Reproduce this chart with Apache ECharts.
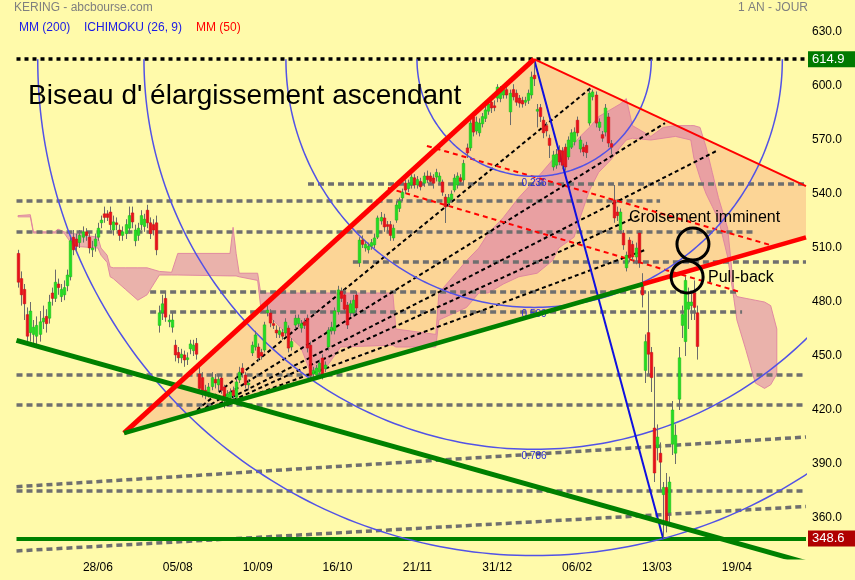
<!DOCTYPE html>
<html><head><meta charset="utf-8">
<script src="https://cdn.jsdelivr.net/npm/echarts@6/dist/echarts.min.js"></script>
<style>html,body{margin:0;padding:0;background:#FFFAAA}#c{width:855px;height:580px}</style>
</head><body><div id="c"></div>
<script>
// ---------- DATA ----------
// x positions are trading-day slots (0 = first candle); the last slots are the Ichimoku projection.
const tickIndex = [26, 52, 78, 104, 130, 156, 182, 208, 234];
const tickLabels = ['28/06', '05/08', '10/09', '16/10', '21/11', '31/12', '06/02', '13/03', '19/04'];
const priceTicks = [360, 390, 420, 450, 480, 510, 540, 570, 600, 630];

// [open, close, low, high]
const candles = [
[507,491,488,509],[493,484,478,497],[487,479,470,490],[473,461,457,477],[463,475,458,480],
[462,466,455,470],[461,467,456,472],[462,469,458,475],[469,471,465,478],[472,468,463,476],
[471,480,468,484],[485,482,478,488],[482,491,480,498],[490,488,484,493],[483,487,480,490],
[484,488,481,492],[489,495,486,498],[494,514,492,516],[516,509,506,520],[515,511,508,518],
[513,517,510,520],[516,519,513,522],[519,517,514,521],[516,510,507,519],[509,510,505,514],
[511,515,508,518],[516,521,514,524],[524,525.5,521,528],[529,527,524,533],[529,527,525,531],
[530,523,520,533],[520,524.5,517,528],[524,523,520,527],[520,517,514,523],[517,519,514,522],
[518,523,515,526],[521,528,518,533],[529.5,524.5,521,533],[514,520,511,523],[517,521,514,524],
[523,528,520,531],[522,526,519,529],[531,524,521,534],[524,518,515,527],[523,520,517,526],
[524,509,506,528],[467,474,463,478],[474,479,470,484],[482,471.6,469,485],[469,470,466,473],
[466,470,463,474],[456,450.6,447,459],[452,449,446,455],[449,451,446,454],[450.6,447.8,444,453],
[448,449,445,452],[454,456.7,451,459],[453,456,450,459],[457,451,448,460],[440,432,429,445],
[438,430,427,441],[431,429,426,434],[429.4,432.8,427,435],[433,438,431,441],[437,435,432,440],
[434,437,430,439],[437.8,431,429,440],[432.8,426.7,421,434],[427,429,424,431],[427,430,425,432],
[431,428,425,433],[427,435.6,426,438],[436.7,441,435,444],[443.3,440.6,438,446],[439.4,434,432,441],
[434,435,431,437],[451.7,456,450,458],[455,461.7,453,464],[455,449,447,457],[452,450,448,454],
[453.3,467.3,452,469],[474,475.5,472,479],[473.9,468.3,466,476],[468,467,465,470],[464.4,462.8,460,467],
[462,464,460,466],[463,461,459,465],[462.8,468.9,461,471],[465.5,454.4,452,467],[455,458,453,460],
[467.2,471,465,473],[468,471,466,473],[465.5,468,463,470],[469,467,465,471],[471,454.4,452,473],
[456,439.4,437,458],[440,442,438,444],[439.4,443.3,437,445],[441,446,439,448],[448.9,439.4,437,451],
[443,445,441,447],[455,464.4,453,466],[464,466,462,469],[464,475,462,477],[474.5,486.7,473,489],
[486,482,480,488],[484,476,474,487],[478.3,467.2,465,480],[474,479,472,481],[474,481,472,484],
[483.9,476.7,474,486],[501.7,514.4,499.5,516],[514.4,512,510,517],[510,512,508,514],[509,511,507,513],
[511,513,509,515],[511.7,515.6,510,518],[516,526.7,515,528],[525,527,523,530],[526.7,521.7,519,529],
[523,522,519,525],[523,517,514,525],[515.6,521,514,523],[525.5,533.9,524,536],[532,536,530,538],
[537.8,541,536,543],[546,542.2,540,548],[543,546,541,548],[545,549.4,543,551],[549,545,543,551],
[545,548,543,550],[547,544,542,549],[546,550,544,552],[550,548,546,553],[550,547,545,552],
[548.9,546,543,551],[549.4,552,547,554],[547,550,545,552],[546.7,541,539,548],[538.3,532.8,523.9,540],
[535,538,533,540],[537,540,535,542],[542.2,548.9,541,551],[545,550,543,552],[549,547,545,551],
[547.8,557,546,559],[565.6,562.8,560,568],[565.6,579.4,564,581],[582.8,574.4,572,585],[575,580,573,583],
[574,579.4,572,582],[579,583,577,585],[582,586.7,580,589],[586,590,584,592],[591,587.8,585,593],
[589,588,586,592],[593.3,599.4,591,601],[593,598,591,600],[595,598,593,601],[598,595,593,600],
[585.6,596,578.3,598],[598,594,592,601],[596,591,589,598],[593.3,590.5,588,595],[592,590,588,594],
[591,592,589,594],[592,596,590,598],[595,605,593,608],[606,604,600,614.9],[586,587,577,590],
[588,583,580,590],[581,574,571,583],[578,575,572,580],[571,567,560,573],[555,561.7,553,564],
[556,562,554,565],[564.4,557.8,556,567],[564,556,554,566],[566,555,553,568],[560.6,570,559,572],
[566,574,565,576],[569,574.4,567,577],[581,574,572,583],[565,570,563,572],[566,563.4,561,568],
[567,563,560,569],[579.4,596,578,598],[594,596.7,592,598],[595,579.4,577,597],[577,580,575,582],
[573,571,569,575],[574.4,587.8,572,590],[582.8,568.3,566,585],[568,566,562,570],[536.7,526.7,524,545],
[530,528,525,533],[520,530,518,532],[518.3,511.7,509,520],[499,506,497,508],[514.4,504.4,502,516],
[512,505,503,514],[505,510,501,513],[518.3,501.7,499,520],[490.5,483.9,477,496],[442,458,435,462],
[463,451,440,486],[452,438,430,455],[410,385,380,444],[399,405,392,412],[396,391,375,402],
[373,377,348.6,380],[377,357,352,385],[363,380,357,383],[401,420,395,425],[396,406,390,412],
[426,449,420,455],[467,473,460,478],[458,492,450,494],[476,480,465,488],[478,480,470,486],
[485,477,470,492],[474,455.3,448,478]
];

// Ichimoku cloud: [slot, upper span, lower span]
const cloud = [
[0,528,527.3],[4,528.5,527.3],[5,519,518.3],[12,519,518.3],[13,520.5,518.3],[15,519,518.3],
[18,518,511],[26,516,510],[27,510,506],[29,506,502],[30,499.5,494],[31,499,493],[35,499,487],
[39,499,481],[42,499,484],[46,497,495],[50,496.5,495],[52,507,495],[69,507,494.5],[70,521.5,494.5],
[71,507,494.5],[72,496,494],[78,496,492],[79,485,477],[83,485,470],[87,485,463],[92,485,455],
[95,485,442],[100,485,443],[105,485,455],[122,485,456],[123,465,455],[136,462,455],[137,485,470],
[146,503,477],[150,510,485],[153,518,485],[158,527,490],[163,538,494],[169,549,496],[174,559,503],
[176,563,510],[181,568,516],[183,572,527],[186,577,542],[189,583,552],[193,587,559],[196,590,566],
[198,593,570],[200,578,571],[206,572,570],[210,577,571],[214,578,572],[219,578,570],[220,578,560],
[222,577,549],[224,566,540],[226,552,533],[228,538,526],[231,521,505],[233,487,482],[234,483,470],
[237,482,453],[240,481,435],[243,480,432],[245,478,434],[247,465,440]
];

// Drawn trend lines, as [slot, price] end points
const wedgeUpper = [[34.5, 407.2], [168, 614.9]];
const wedgeLowerGreen = [[34.5, 407.2], [203.5, 490.0]];
const wedgeLowerRed = [[203.5, 490.0], [256.5, 515.9]];
const wedgeTop = [[168, 614.9], [256.5, 544.4]];
const supportLine = [[-0.5, 458.7], [256.5, 335.2]];
const dropLine = [[168, 614.9], [210, 348.6]];
const fanLines = [
  [[58.3, 420.0], [186.8, 599.4]],
  [[60.9, 421.1], [210.6, 579.4]],
  [[63.5, 421.7], [227.9, 564.4]],
  [[65.8, 422.2], [202.5, 528.3]],
  [[68.0, 422.8], [204.1, 508.9]]
];
const redDashed = [
  [[133.1, 566.7], [244.8, 511.7]],
  [[120.4, 543.3], [235.0, 485.6]]
];
// horizontal levels: [price, from slot, to slot]
const levels = [
  [545.6, 94.4, 256.5], [536.1, -0.5, 209], [518.9, -0.5, 240], [502.2, 109, 256.5],
  [485.6, 43, 235], [474.4, 43, 235.7], [439.4, -0.5, 256.5], [422.8, -0.5, 256.5],
  [375.0, -0.5, 256.5]
];
const slopedLevels = [
  [[-0.5, 377.4], [256.5, 405.0]],
  [[-0.5, 341.7], [256.5, 366.4]]
];
const fibCenter = [168, 614.9];
const fibEnd = [210, 348.6];
const fibRatios = [0.236, 0.5, 0.786, 1.0];
const markedCircles = [[219.7, 512.2], [217.8, 493.9]];
const highPrice = 614.9, lowPrice = 348.6, lastPrice = 455.3;

// ---------- CHART ----------
const FONT = 'Liberation Sans, Arial, sans-serif';
const chart = echarts.init(document.getElementById('c'), null, {renderer: 'canvas'});

function seg(pts, color, width, type, z) {
  return {type: 'line', data: pts, symbol: 'none', silent: true, animation: false, clip: true, z: z,
    lineStyle: {color: color, width: width, type: type}};
}

const series = [];

// wedge fill
series.push({
  type: 'custom', z: 1, silent: true, animation: false, clip: true, data: [[0, 0]],
  renderItem: function (p, api) {
    const pts = [wedgeUpper[0], wedgeUpper[1], wedgeTop[1], wedgeLowerRed[1]].map(d => api.coord(d));
    return {type: 'polygon', shape: {points: pts}, style: {fill: '#FCD596'}};
  }
});
// ichimoku cloud
series.push({
  type: 'custom', z: 2, silent: true, animation: false, clip: true, data: [[0, 0]],
  renderItem: function (p, api) {
    const top = cloud.map(d => api.coord([d[0], d[1]]));
    const bot = cloud.slice().reverse().map(d => api.coord([d[0], d[2]]));
    return {type: 'polygon', shape: {points: top.concat(bot)},
      style: {fill: 'rgba(214,112,172,0.52)', stroke: 'rgba(222,130,160,0.9)', lineWidth: 1}};
  }
});
// gray levels
levels.forEach(l => series.push(seg([[l[1], l[0]], [l[2], l[0]]], '#6f6f6f', 3.5, [6, 4], 3)));
slopedLevels.forEach(l => series.push(seg(l, '#6f6f6f', 3.5, [6, 4], 3)));
// fan & red dashed
fanLines.forEach(l => series.push(seg(l, '#000000', 2, [4, 3], 4)));
redDashed.forEach(l => series.push(seg(l, '#ff0000', 2, [5, 4], 4)));
// fibonacci arcs: lower half circles centred on the high, radius = ratio x (high -> low) distance
series.push({
  type: 'custom', z: 5, silent: true, animation: false, clip: true, data: [[0, 0]],
  renderItem: function (p, api) {
    const c = api.coord(fibCenter), e = api.coord(fibEnd);
    const R = Math.hypot(e[0] - c[0], e[1] - c[1]);
    const children = [];
    fibRatios.forEach(r => {
      const pts = [];
      for (let k = 0; k <= 180; k++) {
        const a = Math.PI * k / 180;
        pts.push([c[0] + R * r * Math.cos(a), c[1] + R * r * Math.sin(a)]);
      }
      children.push({type: 'polyline', shape: {points: pts},
        style: {fill: null, stroke: '#5252e6', lineWidth: 1.5}});
      children.push({type: 'text', x: c[0], y: c[1] + R * r + 7,
        style: {text: r.toFixed(3), fill: '#2a2ad8', fontSize: 10, fontFamily: FONT, align: 'center', verticalAlign: 'middle'}});
    });
    return {type: 'group', children: children};
  }
});
series.push(seg(dropLine, '#1010e0', 2, 'solid', 5));
// candles
series.push({
  type: 'custom', z: 6, silent: true, animation: false, clip: true,
  data: candles.map((d, i) => [i, d[0], d[1], d[2], d[3]]),
  renderItem: function (p, api) {
    const i = api.value(0), o = api.value(1), c = api.value(2), l = api.value(3), h = api.value(4);
    const pO = api.coord([i, o]), pC = api.coord([i, c]), pL = api.coord([i, l]), pH = api.coord([i, h]);
    const w = api.size([1, 0])[0] * 0.85;
    const x = Math.round(pO[0]) + 0.5;
    const top = Math.min(pO[1], pC[1]);
    const bh = Math.max(Math.abs(pO[1] - pC[1]), 1.5);
    const up = c >= o;
    return {type: 'group', children: [
      {type: 'line', shape: {x1: x, y1: pH[1], x2: x, y2: pL[1]}, style: {stroke: '#6b6b6b', lineWidth: 1}},
      {type: 'rect', shape: {x: x - w / 2, y: top, width: w, height: bh},
        style: {fill: up ? '#22dd22' : '#e8101a', stroke: up ? '#18b818' : '#c80c14', lineWidth: 0.5}}
    ]};
  }
});
// thick trend lines
series.push(seg(supportLine, '#008000', 5, 'solid', 7));
series.push(seg(wedgeUpper, '#ff0000', 5, 'solid', 7));
series.push(seg(wedgeLowerGreen, '#008000', 4.5, 'solid', 7));
series.push(seg(wedgeLowerRed, '#ff0000', 4.5, 'solid', 7));
series.push(seg(wedgeTop, '#ff0000', 2, 'solid', 7));
// price marks
const boxLabel = (bg) => ({show: true, position: 'end', distance: 2, color: '#fff', fontSize: 13,
  fontFamily: FONT, backgroundColor: bg, padding: [2, 12, 1, 4]});
series.push({
  type: 'line', data: [], z: 8, silent: true, animation: false,
  markLine: {
    symbol: ['none', 'none'], silent: true, animation: false,
    data: [
      {yAxis: highPrice, lineStyle: {color: '#000', width: 3.5, type: [4, 4]}, label: Object.assign(boxLabel('#007a00'), {formatter: highPrice.toFixed(1)})},
      {yAxis: lowPrice, lineStyle: {color: '#008000', width: 4, type: 'solid'}, label: Object.assign(boxLabel('#b00000'), {formatter: lowPrice.toFixed(1)})},
      {yAxis: lastPrice, lineStyle: {color: '#000', width: 0, opacity: 0}, label: Object.assign(boxLabel('#3a6cff'), {formatter: lastPrice.toFixed(1)})}
    ]
  }
});
// annotation circles
series.push({
  type: 'custom', z: 9, silent: true, animation: false, clip: false, data: markedCircles,
  renderItem: function (p, api) {
    const c = api.coord([api.value(0), api.value(1)]);
    return {type: 'circle', shape: {cx: c[0], cy: c[1], r: 16}, style: {fill: 'none', stroke: '#000', lineWidth: 3}};
  }
});

const txt = (x, y, text, size, color) => ({type: 'text', x: x, y: y, z: 100,
  style: {text: text, fontSize: size, fontFamily: FONT, fill: color, verticalAlign: 'middle'}});

chart.setOption({
  backgroundColor: '#FFFAAA',
  animation: false,
  grid: {left: 16.5, right: 49, top: 0, bottom: 23},
  xAxis: {
    type: 'value', min: -0.5, max: 256.5,
    axisLine: {show: false}, axisTick: {show: false}, splitLine: {show: false},
    axisLabel: {customValues: tickIndex, formatter: v => tickLabels[tickIndex.indexOf(v)] || '',
      color: '#000', fontSize: 12, fontFamily: FONT, margin: 5}
  },
  yAxis: {
    type: 'value', position: 'right', min: 338.34, max: 647.78, scale: true,
    axisLine: {show: false}, axisTick: {show: false}, splitLine: {show: false},
    axisLabel: {customValues: priceTicks, formatter: v => v.toFixed(1), color: '#000', fontSize: 12,
      fontFamily: FONT, margin: 6, padding: [0, 0, 6, 0]}
  },
  graphic: [
    txt(14, 8, 'KERING - abcbourse.com', 12, '#7f7f7f'),
    txt(19, 28, 'MM (200)', 12, '#1a1ae6'),
    txt(84, 28, 'ICHIMOKU (26, 9)', 12, '#1a1ae6'),
    txt(196, 28, 'MM (50)', 12, '#ff0000'),
    txt(738, 8, '1 AN - JOUR', 12, '#7f7f7f'),
    txt(28, 96, "Biseau d' élargissement ascendant", 28, '#000'),
    txt(629, 218, 'Croisement imminent', 16, '#000'),
    txt(708, 278, 'Pull-back', 16, '#000')
  ],
  series: series
});
</script></body></html>
